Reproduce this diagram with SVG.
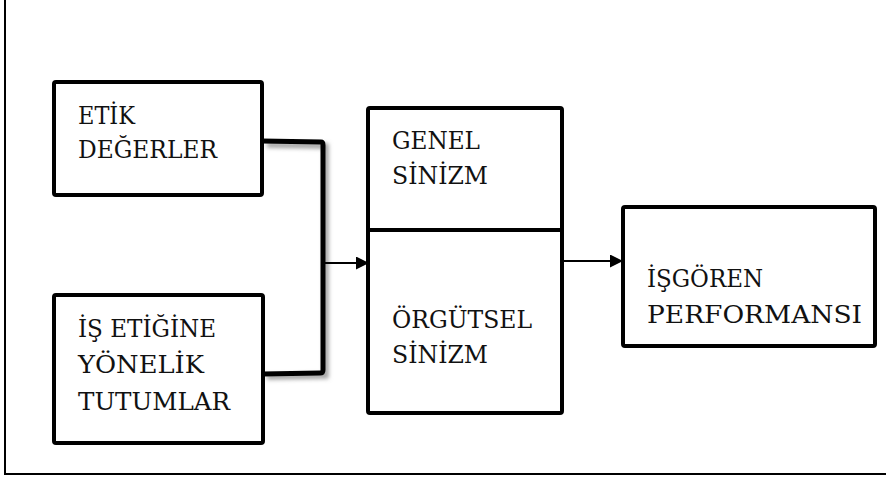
<svg xmlns="http://www.w3.org/2000/svg" width="886" height="480" viewBox="0 0 886 480">
<style>
.box{fill:#fff;stroke:#000;stroke-width:4;stroke-linejoin:round}
.t{font-family:"DejaVu Serif","Liberation Serif",serif;font-size:24px;fill:#111}
.ln{fill:none;stroke:#000;stroke-width:2}
.br{fill:none;stroke:#000;stroke-width:5;stroke-linejoin:round}
</style>
<defs>
<marker id="ah" viewBox="0 0 10 10" refX="10" refY="5" markerWidth="6.5" markerHeight="6.5" markerUnits="strokeWidth" orient="auto">
<path d="M0,0 L10,5 L0,10 z" fill="#000"/>
</marker>
<filter id="sh" x="-10%" y="-10%" width="130%" height="130%">
<feGaussianBlur stdDeviation="2"/>
</filter>
</defs>
<rect width="886" height="480" fill="#fff"/>
<g id="frame">
<path d="M5,0 V474 H886" fill="none" stroke="#000" stroke-width="2"/>
</g>
<g id="connectors">
<path d="M264,142 L323,143 L323,373 L264,374" fill="none" stroke="#999" stroke-width="5" filter="url(#sh)" transform="translate(3,3)"/>
<path class="br" d="M262,141 L321,142 Q323,142 323,145 L323,370 Q323,373 320,373 L263,374"/>
<line class="ln" x1="323" y1="263" x2="369" y2="263" marker-end="url(#ah)"/>
<line class="ln" x1="563" y1="261" x2="623" y2="261" marker-end="url(#ah)"/>
</g>
<g id="etik">
<rect class="box" x="54" y="82" width="208" height="113" rx="2"/>
<text class="t" x="78" y="124" textLength="57" lengthAdjust="spacingAndGlyphs">ETİK</text>
<text class="t" x="78" y="158" textLength="139" lengthAdjust="spacingAndGlyphs">DEĞERLER</text>
</g>
<g id="is-etigi">
<rect class="box" x="54" y="295" width="209" height="148" rx="2"/>
<text class="t" x="78" y="337" textLength="138" lengthAdjust="spacingAndGlyphs">İŞ ETİĞİNE</text>
<text class="t" x="78" y="373" textLength="126" lengthAdjust="spacingAndGlyphs">YÖNELİK</text>
<text class="t" x="78" y="410" textLength="152" lengthAdjust="spacingAndGlyphs">TUTUMLAR</text>
</g>
<g id="sinizm">
<rect class="box" x="368" y="108" width="194" height="305" rx="2"/>
<line x1="370" y1="233" x2="560" y2="233" stroke="#bbb" stroke-width="4" filter="url(#sh)"/>
<line x1="368" y1="230" x2="562" y2="230" stroke="#000" stroke-width="4"/>
<text class="t" x="392" y="149" textLength="88" lengthAdjust="spacingAndGlyphs">GENEL</text>
<text class="t" x="392" y="184" textLength="96" lengthAdjust="spacingAndGlyphs">SİNİZM</text>
<text class="t" x="392" y="328" textLength="140" lengthAdjust="spacingAndGlyphs">ÖRGÜTSEL</text>
<text class="t" x="392" y="363" textLength="96" lengthAdjust="spacingAndGlyphs">SİNİZM</text>
</g>
<g id="performans">
<rect class="box" x="623" y="207" width="252" height="139" rx="2"/>
<text class="t" x="647" y="287" textLength="116" lengthAdjust="spacingAndGlyphs">İŞGÖREN</text>
<text class="t" x="647" y="323" textLength="215" lengthAdjust="spacingAndGlyphs">PERFORMANSI</text>
</g>
</svg>
